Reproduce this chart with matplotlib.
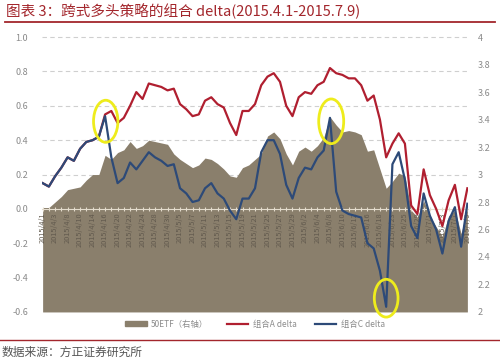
import matplotlib
matplotlib.use("Agg")
import matplotlib.pyplot as plt
from matplotlib.patches import Ellipse, Patch
from matplotlib.lines import Line2D
from matplotlib.ticker import FuncFormatter
from matplotlib.transforms import blended_transform_factory

plt.rcParams['font.family'] = ['Noto Sans CJK SC', 'DejaVu Sans']

# trading days 2015/4/1 - 2015/7/9
apr = [1, 2, 3, 7, 8, 9, 10, 13, 14, 15, 16, 17, 20, 21, 22, 23, 24, 27, 28, 29, 30]
may = [4, 5, 6, 7, 8, 11, 12, 13, 14, 15, 18, 19, 20, 21, 22, 25, 26, 27, 28, 29]
jun = [1, 2, 3, 4, 5, 8, 9, 10, 11, 12, 15, 16, 17, 18, 19, 23, 24, 25, 26, 29, 30]
jul = [1, 2, 3, 6, 7, 8, 9]
dates = (["2015/4/%d" % d for d in apr] + ["2015/5/%d" % d for d in may]
         + ["2015/6/%d" % d for d in jun] + ["2015/7/%d" % d for d in jul])

delta_c = [0.15, 0.13, 0.19, 0.24, 0.30, 0.28, 0.35, 0.39, 0.40, 0.42,
           0.54, 0.30, 0.15, 0.18, 0.27, 0.23, 0.28, 0.33, 0.30, 0.28,
           0.25, 0.26, 0.12, 0.09, 0.04, 0.05, 0.12, 0.15, 0.09, 0.06,
           -0.01, -0.06, 0.06, 0.06, 0.12, 0.33, 0.40, 0.40, 0.32, 0.14,
           0.06, 0.18, 0.24, 0.23, 0.30, 0.34, 0.53, 0.10, -0.01, -0.03,
           -0.04, -0.05, -0.20, -0.23, -0.36, -0.57, 0.26, 0.33, 0.17, -0.10,
           -0.17, 0.09, -0.04, -0.12, -0.26, -0.07, 0.01, -0.22, 0.03]

delta_a = [0.15, 0.13, 0.19, 0.24, 0.30, 0.28, 0.35, 0.39, 0.40, 0.42,
           0.55, 0.57, 0.50, 0.53, 0.60, 0.68, 0.64, 0.73, 0.72, 0.71,
           0.69, 0.70, 0.61, 0.58, 0.54, 0.55, 0.63, 0.65, 0.61, 0.59,
           0.50, 0.43, 0.57, 0.57, 0.61, 0.72, 0.77, 0.79, 0.74, 0.60,
           0.54, 0.65, 0.68, 0.67, 0.72, 0.74, 0.82, 0.79, 0.78, 0.76,
           0.76, 0.72, 0.63, 0.66, 0.52, 0.30, 0.38, 0.44, 0.38, 0.02,
           -0.03, 0.23, 0.08, 0.00, -0.10, 0.05, 0.14, -0.06, 0.12]

etf50 = [2.76, 2.76, 2.80, 2.84, 2.89, 2.90, 2.91, 2.96, 3.00, 3.00,
         3.14, 3.11, 3.16, 3.18, 3.24, 3.19, 3.21, 3.25, 3.24, 3.23,
         3.22, 3.15, 3.11, 3.08, 3.05, 3.07, 3.12, 3.11, 3.08, 3.04,
         2.99, 2.98, 3.05, 3.07, 3.11, 3.15, 3.28, 3.31, 3.26, 3.15,
         3.07, 3.17, 3.20, 3.17, 3.21, 3.27, 3.42, 3.36, 3.31, 3.32,
         3.31, 3.29, 3.17, 3.18, 3.04, 2.90, 2.95, 3.01, 2.99, 2.74,
         2.69, 2.81, 2.70, 2.62, 2.55, 2.70, 2.74, 2.57, 2.76]

left_ticks = [-0.6, -0.4, -0.2, 0.0, 0.2, 0.4, 0.6, 0.8, 1.0]
right_ticks = [2.0, 2.2, 2.4, 2.6, 2.8, 3.0, 3.2, 3.4, 3.6, 3.8, 4.0]

red = '#b01f30'
blue = '#2d4a78'
area = '#8a7f6c'
dark_red = '#a3262c'

x = list(range(len(dates)))

fig = plt.figure(figsize=(5, 3.64), dpi=100)
ax = fig.add_axes([0.084, 0.143, 0.852, 0.755])
ax2 = ax.twinx()
ax.set_zorder(ax2.get_zorder() + 1)
ax.patch.set_visible(False)

# gridlines behind the area, at left-axis ticks
gtrans = blended_transform_factory(ax2.transAxes, ax.transData)
for v in left_ticks:
    if v > 0:
        ax2.plot([0, 1], [v, v], transform=gtrans, color='#cfcfcf', lw=0.8,
                 ls=(0, (4, 3)), zorder=0, clip_on=False)

ax2.fill_between(x, 2, etf50, color=area, lw=0, zorder=1)
ax2.set_ylim(2, 4)
ax2.set_yticks(right_ticks)
ax2.yaxis.set_major_formatter(FuncFormatter(lambda v, _: '%g' % round(v, 1)))
ax2.tick_params(axis='y', length=0, labelsize=6.5, labelcolor='#8a8a8a', pad=7)

ax.plot(x, delta_a, color=red, lw=1.6, zorder=3)
ax.plot(x, delta_c, color=blue, lw=1.6, zorder=4)
ax.set_ylim(-0.6, 1.0)
ax.set_xlim(-0.1, len(x) - 0.9)
ax.set_yticks(left_ticks)
ax.yaxis.set_major_formatter(FuncFormatter(lambda v, _: '%.1f' % v))
ax.tick_params(axis='y', length=0, labelsize=6.5, labelcolor='#8a8a8a', pad=10)

ax.set_xticks(x)
ax.set_xticklabels([d if i % 2 == 0 else '' for i, d in enumerate(dates)])
ax.spines['bottom'].set_position(('data', 0))
ax.spines['bottom'].set_color('#e4dccd')
ax.tick_params(axis='x', direction='inout', length=3, color='#e4dccd',
               labelsize=5.3, labelcolor='#625a4e', rotation=90, pad=1)
for s in ['top', 'left', 'right']:
    ax.spines[s].set_visible(False)
for s in ax2.spines.values():
    s.set_visible(False)

# yellow highlight circles
for cx, cy, w, h in [(10.1, 0.51, 3.9, 0.245), (46.2, 0.51, 4.0, 0.26), (55.0, -0.52, 3.8, 0.22)]:
    ax.add_patch(Ellipse((cx, cy), w, h, fill=False, ec='#eeec1c', lw=2,
                         zorder=6, clip_on=False))

handles = [Patch(color=area), Line2D([], [], color=red, lw=1.6), Line2D([], [], color=blue, lw=1.6)]
labels = ['50ETF（右轴）', '组合A delta', '组合C delta']
fig.legend(handles, labels, loc='center', bbox_to_anchor=(0.51, 1 - 324 / 364), ncol=3,
           frameon=False, fontsize=6, labelcolor='#8c8c8c', handlelength=2.6,
           handleheight=0.6, columnspacing=2.2, handletextpad=0.5)

fig.text(0.012, 1 - 11 / 364, '图表 3：跨式多头策略的组合 delta(2015.4.1-2015.7.9)',
         fontsize=10.5, color=dark_red, va='center')
fig.add_artist(Line2D([0.01, 0.99], [1 - 22 / 364] * 2, color=dark_red, lw=1.3))
fig.add_artist(Line2D([0.0, 1.0], [1 - 340 / 364] * 2, color=dark_red, lw=1.0))
fig.text(0.004, 1 - 352 / 364, '数据来源：方正证券研究所', fontsize=8.5, color='#555555', va='center')

fig.savefig('out.png', dpi=100)
